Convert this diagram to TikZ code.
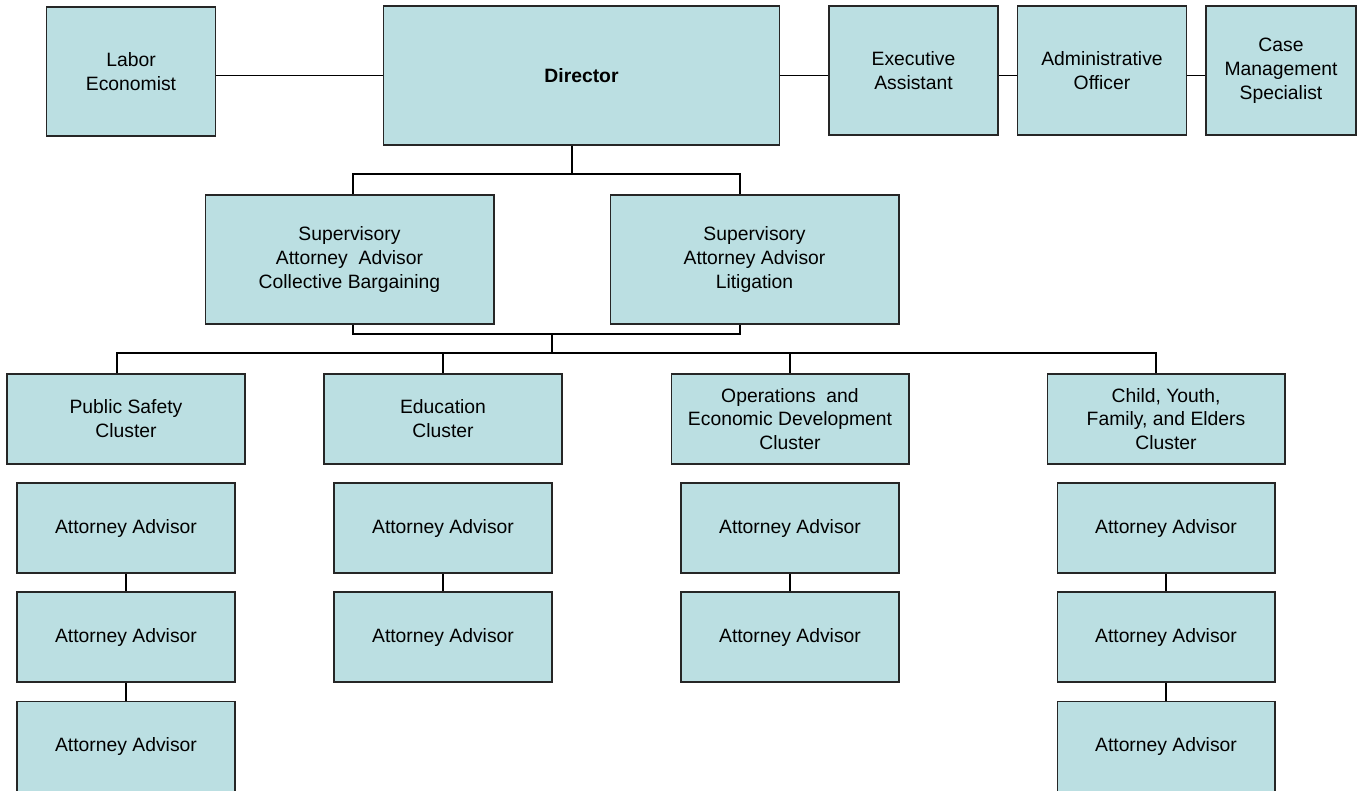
\documentclass[tikz,border=0pt]{standalone}
\usepackage{fontspec}
\setmainfont{Liberation Sans}
\usepackage{tikz}
\usetikzlibrary{shapes}
\definecolor{boxfill}{RGB}{187,223,226}
\tikzset{
  box/.style={shape=rectangle,draw=black!85,fill=boxfill,align=center,line width=0.6pt,inner sep=2pt,
    font=\fontsize{11}{13.6}\selectfont},
  topbox/.style={box,minimum width=3.38cm,minimum height=2.58cm},
  dirbox/.style={box,minimum width=7.94cm,minimum height=2.78cm},
  supbox/.style={box,minimum width=5.78cm,minimum height=2.58cm},
  clbox/.style={box,minimum width=4.76cm,minimum height=1.8cm},
  attbox/.style={box,minimum width=4.36cm,minimum height=1.8cm},
  link/.style={draw=black,line width=1.1pt}
}

\begin{document}
\begin{tikzpicture}[x=0.02cm,y=-0.02cm]
\useasboundingbox (0,0) rectangle (1357,791);

\node[topbox] (lab) at (131,71.5) {Labor\\Economist};
\node[dirbox] (dir) at (581.5,75.5) {\textbf{Director}};
\node[topbox] (exec) at (913.5,70.5) {Executive\\Assistant};
\node[topbox] (admin) at (1102,70.5) {Administrative\\Officer};
\node[topbox,minimum width=3.0cm] (case) at (1281,70.5) {Case\\Management\\Specialist};

\node[supbox] (cb) at (349.5,259.5) {Supervisory\\Attorney~ Advisor\\Collective Bargaining};
\node[supbox] (lit) at (754.5,259.5) {Supervisory\\Attorney Advisor\\Litigation};

\node[clbox] (ps) at (126,419) {Public Safety\\Cluster};
\node[clbox] (edu) at (443,419) {Education\\Cluster};
\node[clbox] (ops) at (790,419) {Operations~ and\\Economic Development\\Cluster};
\node[clbox] (cyf) at (1166,419) {Child, Youth,\\Family, and Elders\\Cluster};

\node[attbox] (ps1) at (126,528) {Attorney Advisor};
\node[attbox] (ps2) at (126,637) {Attorney Advisor};
\node[attbox] (ps3) at (126,746.5) {Attorney Advisor};
\node[attbox] (edu1) at (443,528) {Attorney Advisor};
\node[attbox] (edu2) at (443,637) {Attorney Advisor};
\node[attbox] (ops1) at (790,528) {Attorney Advisor};
\node[attbox] (ops2) at (790,637) {Attorney Advisor};
\node[attbox] (cyf1) at (1166,528) {Attorney Advisor};
\node[attbox] (cyf2) at (1166,637) {Attorney Advisor};
\node[attbox] (cyf3) at (1166,746.5) {Attorney Advisor};

% junction points
\coordinate (d1) at (572,174);
\coordinate (s1) at (353,174);
\coordinate (s2) at (740,174);
\coordinate (b1) at (353,334);
\coordinate (b2) at (740,334);
\coordinate (b0) at (552,334);
\coordinate (c0) at (552,353);
\coordinate (c1) at (117,353);
\coordinate (c4) at (1156,353);

% top row
\draw[link] (lab.east |- dir.west) -- (dir.west);
\draw[link] (dir.east) -- (dir.east -| exec.west);
\draw[link] (exec.east |- dir.east) -- (admin.west |- dir.east);
\draw[link] (admin.east |- dir.east) -- (case.west |- dir.east);

% director to supervisors
\draw[link] (d1 |- dir.south) -- (d1);
\draw[link] (s1 |- cb.north) -- (s1) -- (s2) -- (s2 |- lit.north);

% supervisors to clusters
\draw[link] (b1 |- cb.south) -- (b1) -- (b2) -- (b2 |- lit.south);
\draw[link] (b0) -- (c0);
\draw[link] (c1 |- ps.north) -- (c1) -- (c4) -- (c4 |- cyf.north);
\draw[link] (edu.north |- c0) -- (edu.north);
\draw[link] (ops.north |- c0) -- (ops.north);

% attorney chains
\draw[link] (ps1.south) -- (ps2.north);
\draw[link] (ps2.south) -- (ps3.north);
\draw[link] (edu1.south) -- (edu2.north);
\draw[link] (ops1.south) -- (ops2.north);
\draw[link] (cyf1.south) -- (cyf2.north);
\draw[link] (cyf2.south) -- (cyf3.north);

\end{tikzpicture}
\end{document}
